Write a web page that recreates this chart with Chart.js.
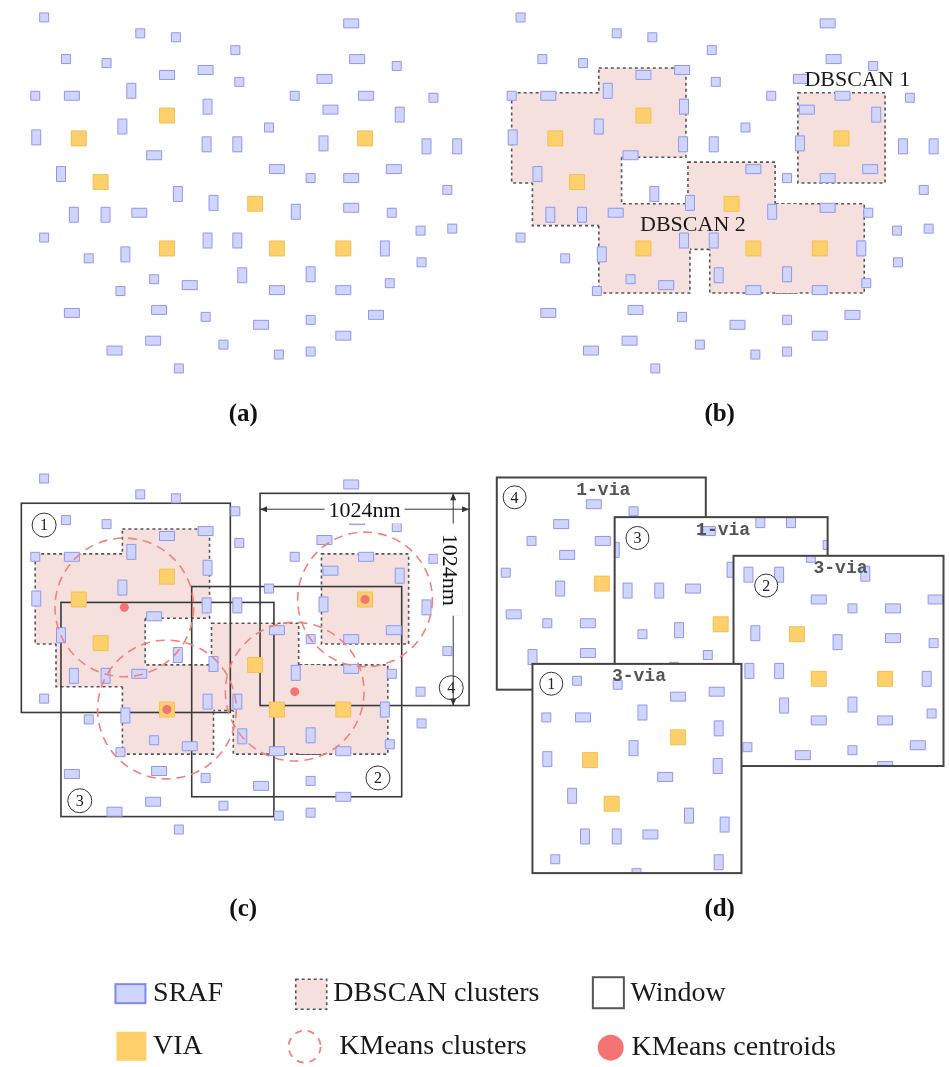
<!DOCTYPE html>
<html><head><meta charset="utf-8">
<script src="https://cdn.jsdelivr.net/npm/chart.js@4.4.0/dist/chart.umd.min.js"></script>
<style>html,body{margin:0;padding:0;background:#fff;}canvas{display:block;}</style>
</head><body>
<canvas id="c" width="949" height="1067"></canvas>
<script>
// ================= DATA (layout units of one panel) =================
// SRAF centres and shape kind: s = square, h = horizontal bar, v = vertical bar
const srafs = [
 [40,13,'s'],[137,29,'s'],[173,33,'s'],[233,46,'s'],[350,19,'h'],
 [62,55,'s'],[103,59,'s'],[164,71,'h'],[203,66,'h'],[237,78,'s'],
 [356,55,'h'],[396,62,'s'],[323,75,'h'],[31,92,'s'],[68,92,'h'],
 [128,87,'v'],[293,92,'s'],[365,92,'h'],[433,94,'s'],[205,103,'v'],
 [329,106,'h'],[399,111,'v'],[119,123,'v'],[267,124,'s'],[32,134,'v'],
 [204,141,'v'],[235,141,'v'],[322,140,'v'],[426,143,'v'],[457,143,'v'],
 [151,152,'h'],[57,171,'v'],[275,166,'h'],[309,175,'s'],[350,175,'h'],
 [393,166,'h'],[447,187,'s'],[175,191,'v'],[211,200,'v'],[70,212,'v'],
 [102,212,'v'],[136,210,'h'],[294,209,'v'],[350,205,'h'],[391,210,'s'],
 [40,235,'s'],[420,228,'s'],[452,226,'s'],[205,238,'v'],[235,238,'v'],
 [384,246,'v'],[85,256,'s'],[122,252,'v'],[421,260,'s'],[240,273,'v'],
 [309,272,'v'],[151,277,'s'],[187,283,'h'],[117,289,'s'],[275,288,'h'],
 [342,288,'h'],[389,281,'s'],[68,311,'h'],[156,308,'h'],[203,315,'s'],
 [259,323,'h'],[309,318,'s'],[375,313,'h'],[150,339,'h'],[111,349,'h'],
 [221,343,'s'],[277,353,'s'],[309,350,'s'],[342,334,'h'],[176,367,'s']
];
const vias = [[164,112],[75,135],[364,135],[97,179],[253,201],[164,246],[275,246],[342,246]];
const viaCluster = [0,0,3,0,2,1,2,2];
// DBSCAN cluster extents [x0,y0,x1,y1]
const dbscanClusters = [
 [119,64,207,154],[31,89,121,180],[52,135,142,223],[209,159,297,247],
 [119,201,211,291],[231,201,319,291],[297,201,387,291],[320,89,408,180]
];
const dbscanLabels = ['DBSCAN 1','DBSCAN 2'];
const dbscanLabelAt = [[380,76],[214,223]];
// KMeans clusters (index k): centroid, radius, window id, window extent
const kmeansCentroids = [[121,143],[164,246],[293,228],[364,135]];
const kmeansRadii = [70,70,70,68];
const windowIds = [1,3,2,4];
const windowRects = [[17,38,228,249],[57,138,272,354],[189,122,401,334],[258,28,469,242]];
const dimLabel = '1024nm';
const captions = ['(a)','(b)','(c)','(d)'];
const legendLabels = ['SRAF','VIA','DBSCAN clusters','KMeans clusters','Window','KMeans centroids'];

// ================= LAYOUT / STYLE =================
const PANEL = {a:[0,0], b:[481,0], c:[0,465]};
const CARD_AT = {0:[533,665],1:[616,517],2:[736,556],3:[497,477]};
const CARD_NUM = {0:[19,20],1:[23,21],2:[33,30],3:[18,20]};
const WIN_NUM = {0:[40,60],1:[76,338],2:[377,315],3:[451,224]};
const CARD_STACK = [3,1,2,0];
const SIZE = {s:[10,10], h:[16,10], v:[10,16], via:[16,16]};
const SRAF_FILL = '#cfd5fc', SRAF_LINE = '#8f98f0';
const VIA_FILL = '#fdd06b', VIA_LINE = '#f2c158';
const DB_FILL = '#f6e0dd', DB_LINE = '#555';
const KM_LINE = '#f4817a', KM_DOT = '#f47474';
const SERIF = '"Liberation Serif", "Times New Roman", serif';

function sprite(w,h,fill,stroke){
  const c=document.createElement('canvas'); c.width=w+2; c.height=h+2;
  const g=c.getContext('2d'); const r=1.5, x=1, y=1;
  g.beginPath();
  g.moveTo(x+r,y); g.lineTo(x+w-r,y); g.quadraticCurveTo(x+w,y,x+w,y+r);
  g.lineTo(x+w,y+h-r); g.quadraticCurveTo(x+w,y+h,x+w-r,y+h);
  g.lineTo(x+r,y+h); g.quadraticCurveTo(x,y+h,x,y+h-r);
  g.lineTo(x,y+r); g.quadraticCurveTo(x,y,x+r,y); g.closePath();
  g.fillStyle=fill; g.fill(); g.lineWidth=1; g.strokeStyle=stroke;
  g.beginPath(); g.rect(1.5,1.5,w-1,h-1); g.stroke();
  return c;
}
const SPRITES = {
  s: sprite(...SIZE.s, SRAF_FILL, SRAF_LINE),
  h: sprite(...SIZE.h, SRAF_FILL, SRAF_LINE),
  v: sprite(...SIZE.v, SRAF_FILL, SRAF_LINE),
  via: sprite(...SIZE.via, VIA_FILL, VIA_LINE)
};

function panelPoints(off){
  const pts = srafs.map(s=>({x:s[0]+off[0], y:s[1]+off[1], k:s[2]}));
  vias.forEach(v=>pts.push({x:v[0]+off[0], y:v[1]+off[1], k:'via'}));
  return pts;
}
function cardPoints(k){
  const w = windowRects[k], at = CARD_AT[k];
  const dx = at[0]-w[0], dy = at[1]-w[1];
  const pts = [];
  srafs.forEach(s=>{
    const sz = SIZE[s[2]];
    if (s[0]+sz[0]/2 > w[0] && s[0]-sz[0]/2 < w[2] && s[1]+sz[1]/2 > w[1] && s[1]-sz[1]/2 < w[3])
      pts.push({x:s[0]+dx, y:s[1]+dy, k:s[2]});
  });
  vias.forEach((v,i)=>{ if (viaCluster[i]===k) pts.push({x:v[0]+dx, y:v[1]+dy, k:'via'}); });
  return pts;
}

const markerStyle = {
  type:'scatter', showLine:false, pointRadius:3, pointHoverRadius:3,
  pointStyle: ctx => (ctx.raw && SPRITES[ctx.raw.k]) || SPRITES.s
};
const datasets = [];
let seq = 0;
datasets.push({...markerStyle, label:'panel a', data:panelPoints(PANEL.a), order:-(seq++)});
datasets.push({...markerStyle, label:'panel b', data:panelPoints(PANEL.b), order:-(seq++)});
datasets.push({...markerStyle, label:'panel c', data:panelPoints(PANEL.c), order:-(seq++)});
datasets.push({type:'scatter', label:'KMeans centroids',
  data:kmeansCentroids.map(c=>({x:c[0]+PANEL.c[0], y:c[1]+PANEL.c[1]})),
  pointStyle:'circle', pointRadius:4.5, backgroundColor:KM_DOT, borderWidth:0, order:-(seq++)});
CARD_STACK.forEach(k=>{
  datasets.push({...markerStyle, label:'window '+windowIds[k], card:k, data:cardPoints(k), order:-(seq++), clip:false});
});

function P(chart,x,y){ return [chart.scales.x.getPixelForValue(x), chart.scales.y.getPixelForValue(y)]; }
function R(chart,r,off){
  const a=P(chart,r[0]+off[0],r[1]+off[1]), b=P(chart,r[2]+off[0],r[3]+off[1]);
  return [a[0],a[1],b[0]-a[0],b[1]-a[1]];
}
function drawDbscan(chart, off){
  const ctx=chart.ctx, W=chart.width, H=chart.height;
  const rects = dbscanClusters.map(r=>R(chart,r,off));
  ctx.save();
  ctx.fillStyle=DB_FILL;
  rects.forEach(r=>ctx.fillRect(...r));
  ctx.strokeStyle=DB_LINE; ctx.lineWidth=1.6; ctx.setLineDash([3,3]);
  rects.forEach((r,i)=>{
    ctx.save();
    rects.forEach((o,j)=>{
      if (j===i) return;
      ctx.beginPath(); ctx.rect(0,0,W,H); ctx.rect(...o); ctx.clip('evenodd');
    });
    ctx.strokeRect(...r);
    ctx.restore();
  });
  ctx.restore();
}
function circNum(ctx,x,y,n,r){
  ctx.save();
  ctx.beginPath(); ctx.arc(x,y,r,0,Math.PI*2); ctx.fillStyle='#fff'; ctx.fill();
  ctx.lineWidth=1; ctx.strokeStyle='#333'; ctx.setLineDash([]); ctx.stroke();
  ctx.fillStyle='#222'; ctx.font='16px '+SERIF; ctx.textAlign='center'; ctx.textBaseline='middle';
  ctx.fillText(String(n), x, y+1);
  ctx.restore();
}
function arrowHead(ctx,x,y,dx,dy){
  const L=7, Wd=3; const px=-dy, py=dx;
  ctx.beginPath(); ctx.moveTo(x,y);
  ctx.lineTo(x-dx*L+px*Wd, y-dy*L+py*Wd); ctx.lineTo(x-dx*L-px*Wd, y-dy*L-py*Wd);
  ctx.closePath(); ctx.fill();
}

const drawPlugin = {
  id:'figure',
  beforeDraw(chart){
    const ctx=chart.ctx; ctx.save(); ctx.fillStyle='#fff'; ctx.fillRect(0,0,chart.width,chart.height); ctx.restore();
  },
  beforeDatasetsDraw(chart){
    const ctx=chart.ctx;
    drawDbscan(chart, PANEL.b);
    drawDbscan(chart, PANEL.c);
    ctx.save(); ctx.strokeStyle='#3a3a3a'; ctx.lineWidth=1.6;
    windowRects.forEach(w=>ctx.strokeRect(...R(chart,w,PANEL.c)));
    ctx.restore();
  },
  beforeDatasetDraw(chart,args){
    const ds=chart.data.datasets[args.index];
    if (ds.card===undefined) return;
    const k=ds.card, w=windowRects[k], at=CARD_AT[k];
    const r=R(chart,[at[0],at[1],at[0]+w[2]-w[0],at[1]+w[3]-w[1]],[0,0]);
    const ctx=chart.ctx;
    ctx.save();
    ctx.fillStyle='#fff'; ctx.fillRect(...r);
    ctx.beginPath(); ctx.rect(...r); ctx.clip();
  },
  afterDatasetDraw(chart,args){
    const ds=chart.data.datasets[args.index];
    if (ds.card===undefined) return;
    const ctx=chart.ctx; ctx.restore();
    const k=ds.card, w=windowRects[k], at=CARD_AT[k];
    const r=R(chart,[at[0],at[1],at[0]+w[2]-w[0],at[1]+w[3]-w[1]],[0,0]);
    ctx.save();
    ctx.strokeStyle='#444'; ctx.lineWidth=2; ctx.strokeRect(...r);
    const nv = viaCluster.filter(c=>c===k).length;
    ctx.fillStyle='#555'; ctx.font='bold 18px "Liberation Mono", monospace';
    ctx.textAlign='center'; ctx.textBaseline='middle';
    const [tx,ty]=P(chart, at[0]+(w[2]-w[0])/2+2, at[1]+13);
    ctx.fillText(nv+'-via', tx, ty);
    ctx.restore();
    const [nx,ny]=P(chart, at[0]+CARD_NUM[k][0], at[1]+CARD_NUM[k][1]);
    circNum(ctx,nx,ny,windowIds[k],11.5);
  },
  afterDatasetsDraw(chart){
    const ctx=chart.ctx;
    // DBSCAN labels (b)
    ctx.save();
    ctx.fillStyle='#1a1a1a'; ctx.font='22px '+SERIF; ctx.textAlign='center'; ctx.textBaseline='middle';
    dbscanLabels.forEach((t,i)=>{ const [x,y]=P(chart,dbscanLabelAt[i][0]+PANEL.b[0],dbscanLabelAt[i][1]+PANEL.b[1]); ctx.fillText(t,x,y); });
    ctx.restore();
    // KMeans circles (c)
    ctx.save();
    ctx.strokeStyle=KM_LINE; ctx.lineWidth=1.6; ctx.setLineDash([9,6]);
    kmeansCentroids.forEach((c,i)=>{
      const [x,y]=P(chart,c[0]+PANEL.c[0],c[1]+PANEL.c[1]);
      const [x2]=P(chart,c[0]+PANEL.c[0]+kmeansRadii[i],0);
      ctx.beginPath(); ctx.arc(x,y,Math.abs(x2-x),0,Math.PI*2); ctx.stroke();
    });
    ctx.restore();
    // window numbers (c)
    windowIds.forEach((n,k)=>{ const [x,y]=P(chart,WIN_NUM[k][0]+PANEL.c[0],WIN_NUM[k][1]+PANEL.c[1]); circNum(ctx,x,y,n,12); });
    // dimension annotations on window 4
    const w4 = windowRects[3];
    ctx.save();
    ctx.strokeStyle='#333'; ctx.fillStyle='#333'; ctx.lineWidth=1;
    const hy = w4[1]+16, vx = w4[2]-16;
    const [hx0,hyp]=P(chart,w4[0]+PANEL.c[0],hy+PANEL.c[1]); const [hx1]=P(chart,w4[2]+PANEL.c[0],0);
    ctx.beginPath(); ctx.moveTo(hx0,hyp); ctx.lineTo(hx1,hyp); ctx.stroke();
    arrowHead(ctx,hx0,hyp,-1,0); arrowHead(ctx,hx1,hyp,1,0);
    const [vxp,vy0]=P(chart,vx+PANEL.c[0],w4[1]+PANEL.c[1]); const [,vy1]=P(chart,0,w4[3]+PANEL.c[1]);
    ctx.beginPath(); ctx.moveTo(vxp,vy0); ctx.lineTo(vxp,vy1); ctx.stroke();
    arrowHead(ctx,vxp,vy0,0,-1); arrowHead(ctx,vxp,vy1,0,1);
    ctx.font='22px '+SERIF; ctx.textAlign='center'; ctx.textBaseline='middle';
    const tw = ctx.measureText(dimLabel).width;
    const hcx=(hx0+hx1)/2;
    ctx.fillStyle='#fff'; ctx.fillRect(hcx-tw/2-4,hyp-14,tw+8,28);
    ctx.fillStyle='#111'; ctx.fillText(dimLabel,hcx,hyp+2);
    const [,vcy]=P(chart,0,w4[1]+77+PANEL.c[1]);
    ctx.translate(vxp-3,vcy); ctx.rotate(Math.PI/2);
    ctx.fillStyle='#fff'; ctx.fillRect(-tw/2-10,-12,tw+20,24);
    ctx.fillStyle='#111'; ctx.fillText(dimLabel,0,1);
    ctx.restore();
    // captions
    ctx.save();
    ctx.fillStyle='#111'; ctx.font='bold 25px '+SERIF; ctx.textAlign='center'; ctx.textBaseline='middle';
    const capAt=[[241,414],[722,414],[241,913],[722,913]];
    captions.forEach((c,i)=>{ const [x,y]=P(chart,capAt[i][0],capAt[i][1]); ctx.fillText(c,x,y); });
    ctx.restore();
    // legend
    ctx.save();
    const L = (x,y)=>P(chart,x,y);
    let a,b;
    a=L(112,988); ctx.fillStyle=SRAF_FILL; ctx.fillRect(a[0],a[1],30,19);
    ctx.strokeStyle='#7f88f0'; ctx.lineWidth=2; ctx.strokeRect(a[0],a[1],30,19);
    a=L(113,1036); ctx.fillStyle=VIA_FILL; ctx.fillRect(a[0],a[1],30,29);
    a=L(294,983); ctx.fillStyle=DB_FILL; ctx.fillRect(a[0],a[1],31,30);
    ctx.strokeStyle=DB_LINE; ctx.lineWidth=1.6; ctx.setLineDash([3,3]); ctx.strokeRect(a[0],a[1],31,30);
    a=L(303,1051); ctx.strokeStyle=KM_LINE; ctx.lineWidth=1.8; ctx.setLineDash([7,6]);
    ctx.beginPath(); ctx.arc(a[0],a[1],16,0,Math.PI*2); ctx.stroke(); ctx.setLineDash([]);
    a=L(594,981); ctx.strokeStyle='#555'; ctx.lineWidth=2; ctx.strokeRect(a[0],a[1],31,31);
    a=L(612,1052); ctx.fillStyle=KM_DOT; ctx.beginPath(); ctx.arc(a[0],a[1],13,0,Math.PI*2); ctx.fill();
    ctx.fillStyle='#1a1a1a'; ctx.font='28px '+SERIF; ctx.textAlign='left'; ctx.textBaseline='middle';
    const txtAt=[[150,998],[150,1051],[332,998],[338,1051],[632,998],[633,1052]];
    legendLabels.forEach((t,i)=>{ b=L(txtAt[i][0],txtAt[i][1]); ctx.fillText(t,b[0],b[1]); });
    ctx.restore();
  }
};

new Chart(document.getElementById('c'), {
  type:'scatter',
  data:{datasets},
  options:{
    responsive:false, animation:false, devicePixelRatio:1, events:[],
    layout:{padding:0},
    scales:{
      x:{type:'linear', min:0, max:949, display:false},
      y:{type:'linear', min:0, max:1067, reverse:true, display:false}
    },
    plugins:{legend:{display:false}, tooltip:{enabled:false}}
  },
  plugins:[drawPlugin]
});
</script>
</body></html>
